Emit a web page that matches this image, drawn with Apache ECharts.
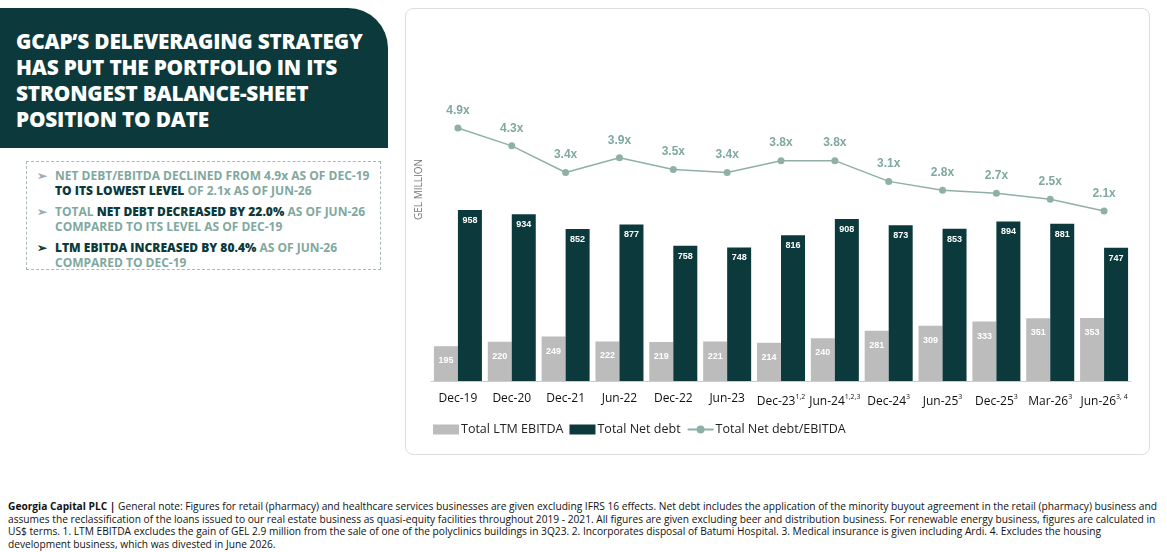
<!DOCTYPE html>
<html><head><meta charset="utf-8">
<script src="https://cdn.jsdelivr.net/npm/echarts@6/dist/echarts.min.js"></script>
<style>
body{margin:0;width:1167px;height:552px;position:relative;font-family:"Open Sans",sans-serif;background:#fff;overflow:hidden}
#title{position:absolute;left:0;top:8px;width:388px;height:140px;background:#0c3a3c;border-top-right-radius:40px;color:#fff;font-weight:800;font-size:20.8px;line-height:26px;box-sizing:border-box;padding:20px 0 0 16px;letter-spacing:-0.2px}
#box{position:absolute;left:26px;top:161px;width:355px;height:109px;border:1.5px dashed #aab8b8;box-sizing:border-box;padding:6px 0 0 10px;font-size:12px;font-weight:700;line-height:15px;color:#7fa8a0;white-space:nowrap}
#box p{margin:0 0 6px 0;padding-left:18px;position:relative}
#box p:before{content:"➢";position:absolute;left:0;color:#9ab}
#box p.d:before{color:#0c3a3c}
#box b{color:#0c3a3c}
#card{position:absolute;left:405px;top:8px;width:745px;height:447px;border:1px solid #ddd;border-radius:8px;box-sizing:border-box}
#chart{position:absolute;left:0;top:0;width:745px;height:447px}
#foot{position:absolute;left:8px;top:500px;width:1150px;font-size:10.2px;line-height:12.5px;color:#111;font-family:"Open Sans",sans-serif}
</style></head><body>
<div id="title">GCAP’S DELEVERAGING STRATEGY<br>HAS PUT THE PORTFOLIO IN ITS<br>STRONGEST BALANCE-SHEET<br>POSITION TO DATE</div>
<div id="box">
<p>NET DEBT/EBITDA DECLINED FROM 4.9x AS OF DEC-19<br><b>TO ITS LOWEST LEVEL</b> OF 2.1x AS OF JUN-26</p>
<p>TOTAL <b>NET DEBT DECREASED BY 22.0%</b> AS OF JUN-26<br>COMPARED TO ITS LEVEL AS OF DEC-19</p>
<p class="d"><b>LTM EBITDA INCREASED BY 80.4%</b> AS OF JUN-26<br>COMPARED TO DEC-19</p>
</div>
<div id="card"><div id="chart"></div></div>
<div id="foot"><b>Georgia Capital PLC |</b> General note: Figures for retail (pharmacy) and healthcare services businesses are given excluding IFRS 16 effects. Net debt includes the application of the minority buyout agreement in the retail (pharmacy) business and assumes the reclassification of the loans issued to our real estate business as quasi-equity facilities throughout 2019 - 2021. All figures are given excluding beer and distribution business. For renewable energy business, figures are calculated in US$ terms. 1. LTM EBITDA excludes the gain of GEL 2.9 million from the sale of one of the polyclinics buildings in 3Q23. 2. Incorporates disposal of Batumi Hospital. 3. Medical insurance is given including Ardi. 4. Excludes the housing development business, which was divested in June 2026.</div>
<script>
const categories=["Dec-19","Dec-20","Dec-21","Jun-22","Dec-22","Jun-23","Dec-23","Jun-24","Dec-24","Jun-25","Dec-25","Mar-26","Jun-26"];
const superscripts=["","","","","","","1,2","1,2,3","3","3","3","3","3, 4"];
const ebitda=[195,220,249,222,219,221,214,240,281,309,333,351,353];
const netDebt=[958,934,852,877,758,748,816,908,873,853,894,881,747];
const ratio=[4.9,4.3,3.4,3.9,3.5,3.4,3.8,3.8,3.1,2.8,2.7,2.5,2.1];
const c=echarts.init(document.getElementById('chart'));
c.setOption({
 animation:false,
 grid:{left:25,right:20,top:32,bottom:75},
 graphic:[{type:'text',left:8,top:150,rotation:Math.PI/2,style:{text:'GEL MILLION',fill:'#777',font:'10px "Open Sans"'}}],
 legend:{bottom:15,left:22,itemGap:6,itemWidth:26,itemHeight:10,textStyle:{fontFamily:'Open Sans',fontSize:12.5,color:'#222',padding:[0,0,0,-3]},
  data:[{name:'Total LTM EBITDA',icon:'rect'},{name:'Total Net debt',icon:'rect'},{name:'Total Net debt/EBITDA'}]},
 xAxis:{type:'category',data:categories,axisTick:{show:false},axisLine:{lineStyle:{color:'#ccc'}},
  axisLabel:{margin:12,interval:0,formatter:(v,i)=>v+(superscripts[i]?'{s|'+superscripts[i]+'}':''),
   color:'#111',fontFamily:'Open Sans',fontSize:12,rich:{s:{fontSize:7,verticalAlign:'top',padding:[0,0,10,0],color:'#111'}}}},
 yAxis:[{type:'value',min:0,max:1905,show:false,splitLine:{show:false}},
        {type:'value',min:-3.64,max:7.84,show:false,splitLine:{show:false}}],
 series:[
  {name:'Total LTM EBITDA',type:'bar',data:ebitda,barWidth:24,barGap:'0%',itemStyle:{color:'#bcbcbc'},
   label:{show:true,position:'insideTop',distance:10,color:'#fff',fontSize:9,fontWeight:'bold'}},
  {name:'Total Net debt',type:'bar',data:netDebt,barWidth:24,itemStyle:{color:'#0c3a3c'},
   label:{show:true,position:'insideTop',distance:6,color:'#fff',fontSize:9,fontWeight:'bold'}},
  {name:'Total Net debt/EBITDA',type:'line',yAxisIndex:1,data:ratio,symbol:'circle',symbolSize:7,
   lineStyle:{color:'#8fb0a8',width:1.5},itemStyle:{color:'#8fb0a8'},
   label:{show:true,position:'top',distance:8,formatter:p=>p.value.toFixed(1)+'x',color:'#7fa8a0',fontWeight:'bold',fontSize:12}}
 ]
});
</script></body></html>
